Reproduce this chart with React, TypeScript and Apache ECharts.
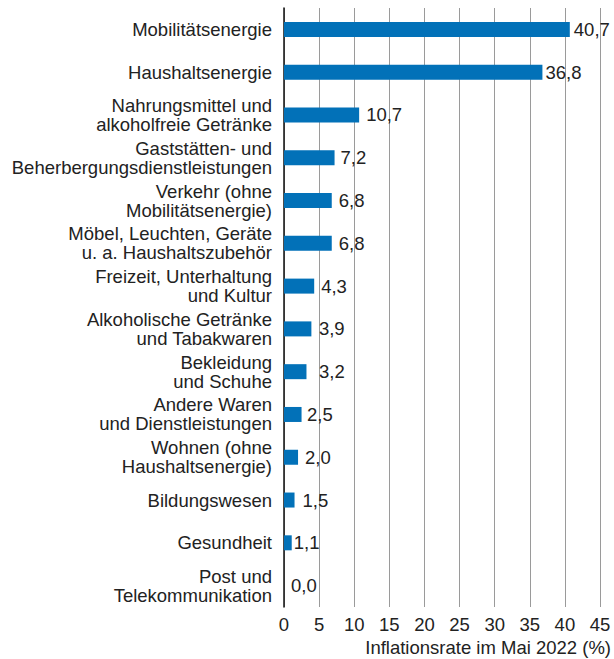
import React, { useEffect, useRef } from "react";
import * as echarts from "echarts";

const categories = [
  "Mobilitätsenergie",
  "Haushaltsenergie",
  "Nahrungsmittel und\nalkoholfreie Getränke",
  "Gaststätten- und\nBeherbergungsdienstleistungen",
  "Verkehr (ohne\nMobilitätsenergie)",
  "Möbel, Leuchten, Geräte\nu. a. Haushaltszubehör",
  "Freizeit, Unterhaltung\nund Kultur",
  "Alkoholische Getränke\nund Tabakwaren",
  "Bekleidung\nund Schuhe",
  "Andere Waren\nund Dienstleistungen",
  "Wohnen (ohne\nHaushaltsenergie)",
  "Bildungswesen",
  "Gesundheit",
  "Post und\nTelekommunikation",
];

const values = [40.7, 36.8, 10.7, 7.2, 6.8, 6.8, 4.3, 3.9, 3.2, 2.5, 2.0, 1.5, 1.1, 0.0];

const xTicks = [0, 5, 10, 15, 20, 25, 30, 35, 40, 45];

const labelGaps = [4, 3, 7, 6, 7, 7, 7, 7.5, 12.5, 5.5, 7, 8, 2, 7];

const axisTitle = "Inflationsrate im Mai 2022 (%)";

const FONT = "Liberation Sans";
const FS = 18.5;

export default function App() {
  const ref = useRef<HTMLDivElement>(null);
  useEffect(() => {
    if (!ref.current) return;
    const chart = echarts.init(ref.current, undefined, { renderer: "svg" });
    chart.setOption({
      animation: false,
      textStyle: { fontFamily: FONT },
      grid: { left: 284, right: 13, top: 8, bottom: 52, containLabel: false },
      xAxis: {
        type: "value",
        min: xTicks[0],
        max: xTicks[xTicks.length - 1],
        interval: 5,
        axisLine: { show: false },
        axisTick: { show: false },
        axisLabel: { color: "#222", fontSize: FS, margin: 8, fontFamily: FONT },
        splitLine: { show: true, lineStyle: { color: "#9a9a9a", width: 1 } },
        name: axisTitle,
        nameLocation: "end",
        nameGap: 0,
        nameTextStyle: {
          color: "#222",
          fontSize: FS,
          fontFamily: FONT,
          align: "right",
          verticalAlign: "top",
          padding: [31, -11, 0, 0],
        },
      },
      yAxis: {
        type: "category",
        data: categories,
        inverse: true,
        axisLine: { show: true, lineStyle: { color: "#111", width: 1.5 } },
        axisTick: { show: false },
        axisLabel: {
          color: "#222",
          fontSize: FS,
          lineHeight: 19,
          margin: 12,
          align: "right",
          fontFamily: FONT,
        },
        splitLine: { show: false },
      },
      series: [
        {
          type: "bar",
          barWidth: 15,
          itemStyle: { color: "#0271b8" },
          data: values.map((v, i) => ({
            value: v,
            label: {
              show: true,
              position: "right",
              distance: labelGaps[i],
              color: "#222",
              fontSize: FS,
              fontFamily: FONT,
              formatter: () => v.toFixed(1).replace(".", ","),
            },
          })),
        },
      ],
    });
    return () => chart.dispose();
  }, []);
  return <div ref={ref} style={{ width: 614, height: 659, position: "absolute", left: 0, top: 0 }} />;
}
